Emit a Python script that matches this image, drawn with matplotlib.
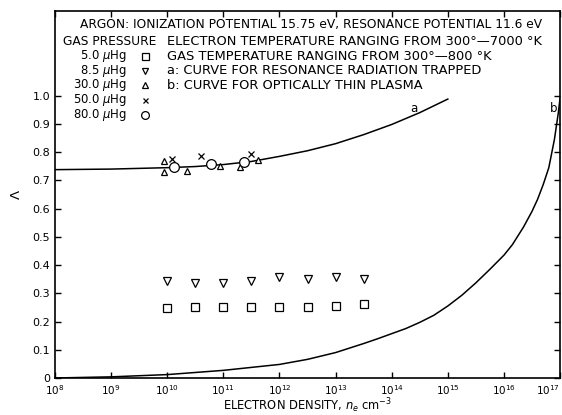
import numpy as np
import matplotlib
matplotlib.use("Agg")
import matplotlib.pyplot as plt

# --- data (log10 of electron density, Lambda) ---
curve_a_log = [8.0, 9.0, 10.0, 10.5, 11.0, 11.5, 12.0, 12.5, 13.0, 13.5, 14.0, 14.5, 15.0]
curve_a_val = [0.738, 0.740, 0.745, 0.749, 0.756, 0.767, 0.785, 0.805, 0.830, 0.862, 0.898, 0.940, 0.988]

curve_b_log = [8.0, 9.0, 10.0, 11.0, 12.0, 12.5, 13.0, 13.5, 13.75, 14.0, 14.25, 14.5, 14.75,
               15.0, 15.25, 15.5, 15.75, 16.0, 16.15, 16.35, 16.5, 16.6, 16.7, 16.8, 16.9, 16.97, 17.0]
curve_b_val = [0.0, 0.004, 0.012, 0.027, 0.048, 0.066, 0.090, 0.122, 0.139, 0.157, 0.175, 0.197, 0.222,
               0.255, 0.293, 0.337, 0.385, 0.435, 0.472, 0.535, 0.590, 0.633, 0.685, 0.745, 0.845, 0.940, 0.990]

low_log = [10.0, 10.5, 11.0, 11.5, 12.0, 12.5, 13.0, 13.5]
p5_0 = [0.249, 0.250, 0.250, 0.250, 0.250, 0.251, 0.256, 0.263]     # 5.0 uHg, squares
p8_5 = [0.342, 0.338, 0.338, 0.342, 0.356, 0.352, 0.359, 0.349]     # 8.5 uHg, triangles down

p30_log = [9.94, 9.94, 10.35, 10.94, 11.29, 11.61]
p30_val = [0.770, 0.731, 0.734, 0.752, 0.749, 0.773]
p50_log = [10.08, 10.60, 11.49]
p50_val = [0.776, 0.787, 0.793]
p80_log = [10.12, 10.78, 11.37]
p80_val = [0.746, 0.758, 0.766]

pressure_labels = ["5.0 $\\mu$Hg", "8.5 $\\mu$Hg", "30.0 $\\mu$Hg", "50.0 $\\mu$Hg", "80.0 $\\mu$Hg"]
notes = ["ELECTRON TEMPERATURE RANGING FROM 300\u00b0\u20147000 \u00b0K",
         "GAS TEMPERATURE RANGING FROM 300\u00b0\u2014800 \u00b0K",
         "a: CURVE FOR RESONANCE RADIATION TRAPPED",
         "b: CURVE FOR OPTICALLY THIN PLASMA"]
title = "ARGON: IONIZATION POTENTIAL 15.75 eV, RESONANCE POTENTIAL 11.6 eV"


def ne(logs):
    return 10.0 ** np.asarray(logs)


fig = plt.figure(figsize=(5.62, 4.15), dpi=100)
ax = fig.add_axes([0.0979, 0.0892, 0.8986, 0.8843])

ax.plot(ne(curve_a_log), curve_a_val, color="black", lw=1.1)
ax.plot(ne(curve_b_log), curve_b_val, color="black", lw=1.1)

sty = dict(ls="none", mfc="white", mec="black", mew=0.9)
markers = [("s", 6.3, p5_0, low_log), ("v", 5.5, p8_5, low_log),
           ("^", 5, p30_val, p30_log), ("x", 4.5, p50_val, p50_log), ("o", 7, p80_val, p80_log)]
for m, ms, vals, logs in markers:
    ax.plot(ne(logs), vals, marker=m, ms=ms, zorder=3, **sty)

ax.set_xscale("log")
ax.set_xlim(1e8, 1e17)
ax.set_ylim(0, 1.3)
ax.set_xticks(ne(range(8, 18)))
ax.set_xticklabels([f"$10^{{{k}}}$" for k in range(8, 18)])
ax.get_xticklabels()[-1].set_horizontalalignment("right")
ax.minorticks_off()
yt = [0, 0.1, 0.2, 0.3, 0.4, 0.5, 0.6, 0.7, 0.8, 0.9, 1.0]
ax.set_yticks(yt)
ax.set_yticklabels(["0"] + [f"{v:.1f}" for v in yt[1:]])
ax.tick_params(direction="in", top=True, right=True, labelsize=8, length=4, width=1)
ax.tick_params(axis="x", pad=4, labelsize=7.5)
for s in ax.spines.values():
    s.set_linewidth(1.2)

ax.set_xlabel("ELECTRON DENSITY, $n_e$ cm$^{-3}$", fontsize=8.3, va="center")
ax.xaxis.set_label_coords(0.5, -0.076)
ax.set_ylabel("\u039b", fontsize=9.5, labelpad=7)

# annotation text block
fs = 8.8
ax.text(0.0495, 0.962, title, transform=ax.transAxes, fontsize=fs, va="center")
ax.text(0.0158, 0.918, "GAS PRESSURE", transform=ax.transAxes, fontsize=fs, va="center")
ys = [0.918, 0.877, 0.837, 0.797]
for y, t in zip(ys, notes):
    ax.text(0.222, y, t, transform=ax.transAxes, fontsize=9.4, va="center")
leg_y = [0.877, 0.837, 0.797, 0.757, 0.717]
for y, lab, (m, ms, _, _) in zip(leg_y, pressure_labels, markers):
    ax.text(0.1426, y, lab, transform=ax.transAxes, fontsize=8.4, va="center", ha="right")
    ax.plot([0.178], [y], transform=ax.transAxes, marker=m, ms=ms * 0.8, clip_on=False, **sty)

ax.text(10 ** 14.39, 0.954, "a", fontsize=8.5, ha="center", va="center")
ax.text(10 ** 16.88, 0.954, "b", fontsize=8.5, ha="center", va="center")

fig.savefig("out.png", dpi=100)
